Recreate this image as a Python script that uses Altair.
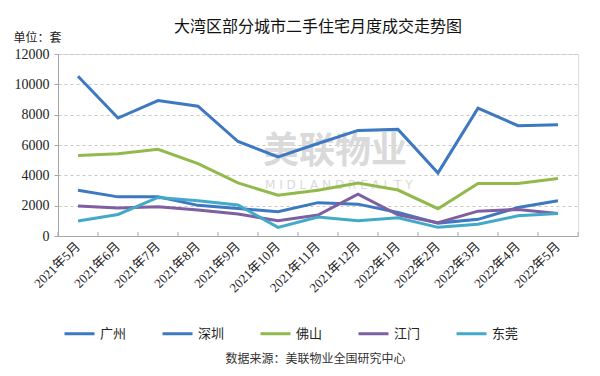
import altair as alt
import pandas as pd

months = ["2021年5月", "2021年6月", "2021年7月", "2021年8月", "2021年9月", "2021年10月",
          "2021年11月", "2021年12月", "2022年1月", "2022年2月", "2022年3月", "2022年4月", "2022年5月"]
cities = ["广州", "深圳", "佛山", "江门", "东莞"]
guangzhou = [10530, 7780, 8930, 8560, 6230, 5210, 6100, 6960, 7030, 4160, 8430, 7270, 7340]
shenzhen = [3020, 2580, 2580, 2020, 1820, 1600, 2200, 2100, 1550, 850, 1100, 1880, 2320]
foshan = [5300, 5430, 5720, 4770, 3500, 2690, 3020, 3500, 3030, 1800, 3460, 3460, 3790]
jiangmen = [1970, 1850, 1930, 1710, 1450, 1000, 1380, 2760, 1400, 880, 1640, 1750, 1490]
dongguan = [990, 1420, 2540, 2320, 2040, 570, 1250, 1000, 1200, 570, 770, 1330, 1490]
y_ticks = [0, 2000, 4000, 6000, 8000, 10000, 12000]
colors = ["#3D78C1", "#3D78C1", "#92B94B", "#7E5FA2", "#43A9C9"]

rows = []
for city, vals in zip(cities, [guangzhou, shenzhen, foshan, jiangmen, dongguan]):
    for m, v in zip(months, vals):
        rows.append({"month": m, "city": city, "value": v})
df = pd.DataFrame(rows)
mdf = pd.DataFrame({"month": months})

W, H = 520, 182
CJK = "Noto Sans CJK SC"
NUM = "Liberation Serif, 'Noto Sans CJK SC'"
AX = "#A6A6A6"

xscale = alt.Scale(type="band", domain=months, paddingInner=0, paddingOuter=0)
xaxis = alt.Axis(
    title="数据来源：美联物业全国研究中心", titleFont=CJK, titleFontSize=12, titleFontWeight="normal",
    titleColor="#333333", titleX=257, titleY=122, titleAlign="center", titleBaseline="middle",
    labelAngle=-45, labelAlign="right", labelBaseline="middle", labelFont=NUM, labelFontSize=13,
    labelColor="#222222", labelPadding=8, ticks=False, domainColor=AX, grid=False, labelOverlap=False,
)

wm1 = alt.Chart(pd.DataFrame({"t": ["美联物业"]})).mark_text(
    font=CJK, fontSize=36, fontWeight="bold", color="#DADADA", align="left", baseline="middle"
).encode(x=alt.value(205), y=alt.value(98), text="t:N")
wm2 = alt.Chart(pd.DataFrame({"t": ["M I D L A N D   R E A L T Y"]})).mark_text(
    font="DejaVu Sans", fontSize=12, color="#DADADA", align="left", baseline="middle"
).encode(x=alt.value(207), y=alt.value(131), text="t:N")

lines = alt.Chart(df).mark_line(strokeWidth=3).encode(
    x=alt.X("month:N", scale=xscale, bandPosition=0.5, axis=xaxis),
    y=alt.Y("value:Q", scale=alt.Scale(domain=[0, 12000], nice=False),
            axis=alt.Axis(values=y_ticks, format="d", title="单位：套", titleAngle=0, titleX=-45, titleY=-17,
                          titleAlign="left", titleBaseline="middle", titleFont=CJK, titleFontSize=12,
                          titleFontWeight="normal", titleColor="#222222",
                          labelFont="Liberation Serif", labelFontSize=14, labelColor="#222222",
                          labelPadding=5, tickSize=4, tickColor=AX, domainColor=AX,
                          gridDash=[3, 3], gridColor="#C8C8C8")),
    color=alt.Color("city:N", sort=cities, scale=alt.Scale(domain=cities, range=colors),
                    legend=alt.Legend(title=None, orient="none", legendX=5, legendY=263,
                                      direction="horizontal", columns=5, symbolType="stroke",
                                      symbolSize=900, symbolStrokeWidth=3, labelFont=CJK,
                                      labelFontSize=13, labelColor="#222222", labelOffset=4,
                                      columnPadding=29)),
)

ticks_a = alt.Chart(mdf).mark_rule(color=AX, strokeWidth=1).encode(
    x=alt.X("month:N", scale=xscale, bandPosition=0, axis=xaxis),
    y=alt.value(H - 4), y2=alt.value(H),
)
ticks_b = alt.Chart(mdf.tail(1)).mark_rule(color=AX, strokeWidth=1).encode(
    x=alt.X("month:N", scale=xscale, bandPosition=1, axis=xaxis),
    y=alt.value(H - 4), y2=alt.value(H),
)

chart = alt.layer(wm1, wm2, ticks_a, ticks_b, lines).properties(
    width=W, height=H,
    title=alt.Title("大湾区部分城市二手住宅月度成交走势图", font=CJK, fontSize=16,
                    fontWeight="normal", color="#111111", anchor="middle", offset=-4),
    autosize=alt.AutoSizeParams(type="none"),
    padding={"left": 50, "top": 46, "right": 14, "bottom": 132},
).configure_view(stroke=None).configure(background="white")

chart.save("out.html", embed_options={"renderer": "svg", "actions": False})
